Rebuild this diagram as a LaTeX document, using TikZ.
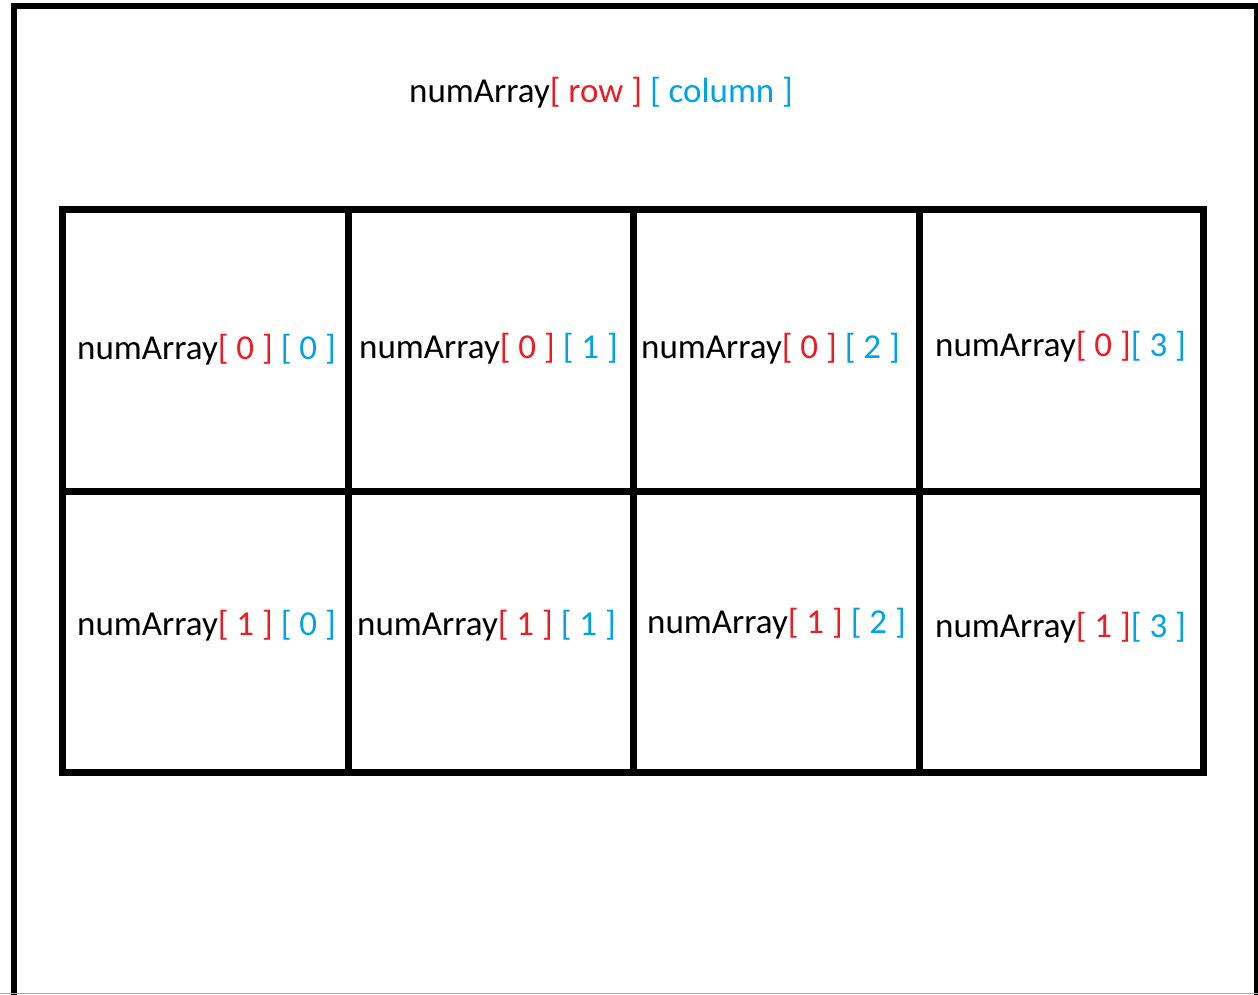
\documentclass[tikz,border=0pt]{standalone}
\usepackage{fontspec}
\setmainfont{Carlito}
\definecolor{idxred}{RGB}{237,28,36}
\definecolor{idxblue}{RGB}{0,162,232}
\newcommand{\rw}[1]{\textcolor{idxred}{[ #1 ]}}
\newcommand{\cl}[1]{\textcolor{idxblue}{[ #1 ]}}
\begin{document}
\begin{tikzpicture}[x=1pt,y=-1pt,
  lbl/.style={anchor=west,inner sep=0pt,font=\fontsize{35}{42}\selectfont},
  gridline/.style={line width=7pt,line cap=rect},
  frame/.style={line width=6pt}]
\useasboundingbox (0,0) rectangle (1258,994);
% outer frame
\draw[frame] (14,1010) -- (14,6) -- (1257,6) -- (1257,1010);
\draw[gray!70,line width=1pt] (0,993.5) -- (1258,993.5);
% title
\node[lbl] (title) at (409,93) {numArray\rw{row} \cl{column}};
% grid
\draw[gridline] (62.5,209.5) rectangle (1203.5,772.5);
\draw[gridline] (62.5,491) -- (1203.5,491);
\draw[gridline] (348,209.5) -- (348,772.5);
\draw[gridline] (633,209.5) -- (633,772.5);
\draw[gridline] (919,209.5) -- (919,772.5);
% cells
\node[lbl] (c00) at (77,350) {numArray\rw{0} \cl{0}};
\node[lbl] (c01) at (359,349) {numArray\rw{0} \cl{1}};
\node[lbl] (c02) at (641,349) {numArray\rw{0} \cl{2}};
\node[lbl] (c03) at (935,347) {numArray\rw{0}\cl{3}};
\node[lbl] (c10) at (77,626) {numArray\rw{1} \cl{0}};
\node[lbl] (c11) at (357,626) {numArray\rw{1} \cl{1}};
\node[lbl] (c12) at (647,624) {numArray\rw{1} \cl{2}};
\node[lbl] (c13) at (935,628) {numArray\rw{1}\cl{3}};
\end{tikzpicture}
\end{document}
